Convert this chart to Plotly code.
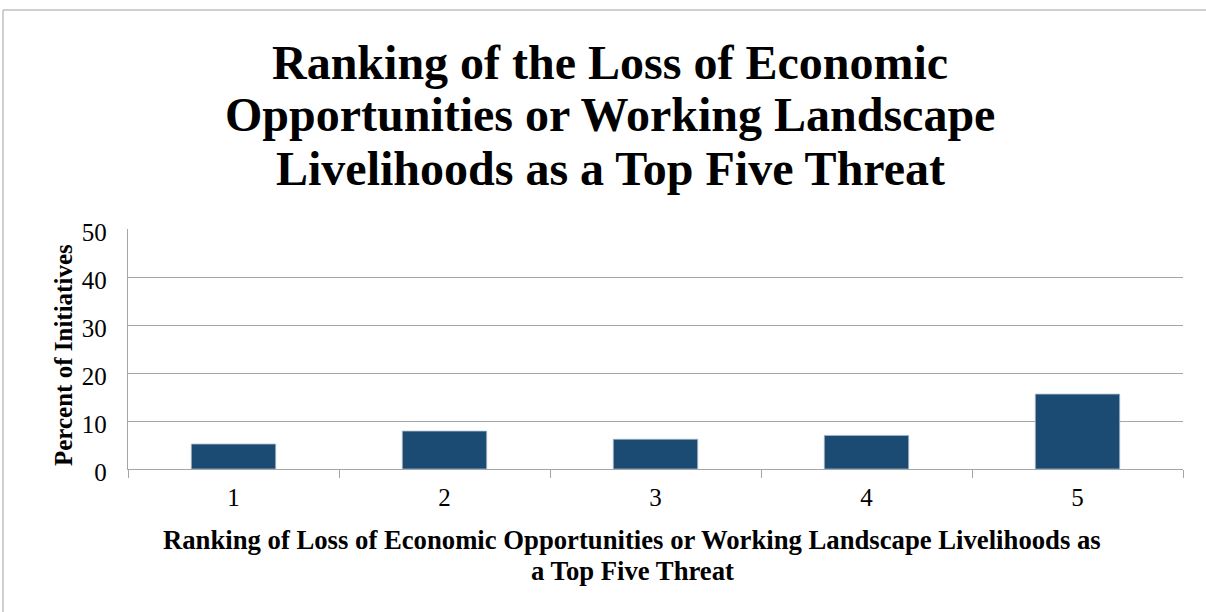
import plotly.graph_objects as go

# Ranking positions and share of initiatives (percent)
rankings = ["1", "2", "3", "4", "5"]
percent_of_initiatives = [5.2, 7.9, 6.2, 7.0, 15.6]
y_ticks = [0, 10, 20, 30, 40, 50]

title_lines = [
    "Ranking of the Loss of Economic",
    "Opportunities or Working Landscape",
    "Livelihoods as a Top Five Threat",
]
y_title = "Percent of Initiatives"
x_title_lines = [
    "Ranking of Loss of Economic Opportunities or Working Landscape Livelihoods as",
    "a Top Five Threat",
]

W, H = 1206, 612
L, R, T, B = 128, 23, 229, 143
pw, ph = W - L - R, H - T - B


def px_x(x):
    return (x - L) / pw


def px_y(y):
    return (H - B - y) / ph


SERIF = "Liberation Serif, Times New Roman, serif"
GRID = "#A6A6A6"

fig = go.Figure(
    go.Bar(
        x=rankings,
        y=percent_of_initiatives,
        marker=dict(color="#1B4A73", line=dict(color="#A9B8C8", width=0.8)),
        hoverinfo="x+y",
    )
)

fig.update_layout(
    width=W,
    height=H,
    margin=dict(l=L, r=R, t=T, b=B),
    paper_bgcolor="white",
    plot_bgcolor="white",
    bargap=0.6,
    showlegend=False,
    font=dict(family=SERIF, color="black"),
)

fig.update_xaxes(
    type="category",
    showgrid=False,
    showline=True,
    linecolor=GRID,
    linewidth=1.3,
    ticks="outside",
    tickson="boundaries",
    ticklen=8,
    tickcolor=GRID,
    ticklabelstandoff=6,
    tickfont=dict(size=25, family=SERIF),
)

fig.update_yaxes(
    range=[0, 50],
    tickvals=y_ticks,
    showgrid=True,
    gridcolor=GRID,
    gridwidth=1.3,
    showline=True,
    linecolor=GRID,
    linewidth=1.3,
    zeroline=False,
    ticks="",
    ticklabelstandoff=15,
    ticklabelshift=3,
    tickfont=dict(size=25, family=SERIF),
)

# Chart title, one annotation per line for tight leading
for line, yc in zip(title_lines, [62, 115, 168]):
    fig.add_annotation(
        text=line,
        xref="paper", yref="paper",
        x=px_x(610), y=px_y(yc),
        xanchor="center", yanchor="middle",
        showarrow=False,
        font=dict(size=48, family=SERIF, color="black", weight="bold"),
    )

# Y-axis title
fig.add_annotation(
    text="<b>" + y_title + "</b>",
    xref="paper", yref="paper",
    x=px_x(63), y=px_y(355),
    xanchor="center", yanchor="middle",
    textangle=-90,
    showarrow=False,
    font=dict(size=25, family=SERIF, color="black"),
)

# X-axis title
for line, yc in zip(x_title_lines, [540, 571]):
    fig.add_annotation(
        text="<b>" + line + "</b>",
        xref="paper", yref="paper",
        x=px_x(632), y=px_y(yc),
        xanchor="center", yanchor="middle",
        showarrow=False,
        font=dict(size=26.7, family=SERIF, color="black"),
    )

# Chart-area border
fig.add_shape(
    type="rect",
    xref="paper", yref="paper",
    x0=px_x(3), y0=px_y(620), x1=px_x(1215), y1=px_y(10),
    line=dict(color="#A0A0A0", width=1),
    fillcolor="rgba(0,0,0,0)",
    layer="below",
)

fig.write_html("out.html")
